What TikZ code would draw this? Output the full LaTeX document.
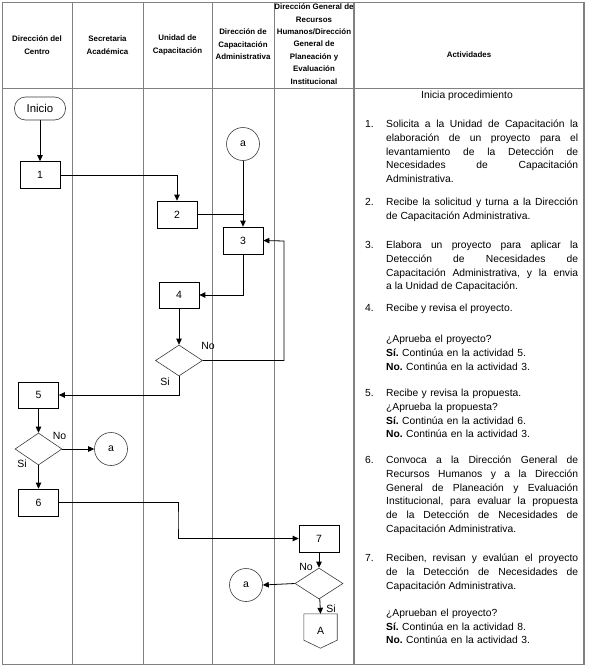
\documentclass[tikz,border=0pt]{standalone}
\usepackage{fontspec}
\setmainfont{Liberation Sans}
\usetikzlibrary{arrows.meta,shapes.geometric}
\definecolor{gridc}{RGB}{128,128,128}
\definecolor{shapec}{RGB}{60,60,60}
\tolerance=10000
\hbadness=10000
\hyphenpenalty=10000
\exhyphenpenalty=10000
\frenchspacing
\begin{document}
\begin{tikzpicture}[x=1pt,y=-1pt,
  gridline/.style={draw=gridc, line width=0.8pt},
  box/.style={draw=black, line width=0.7pt, minimum width=40pt, minimum height=27pt, inner sep=0pt, font=\fontsize{10.5}{12}\selectfont},
  dec/.style={draw=shapec, line width=0.6pt, diamond, minimum width=47pt, minimum height=31pt, inner sep=0pt, aspect=1.5},
  conn/.style={draw=shapec, circle, line width=0.6pt, minimum size=33pt, inner sep=0pt, font=\fontsize{10.5}{12}\selectfont},
  arr/.style={line width=0.8pt, -{Triangle[length=6pt,width=5.5pt]}},
  ln/.style={line width=0.8pt},
  hdr/.style={font=\fontsize{7.9}{12.4}\selectfont\bfseries, align=center, inner sep=0pt},
  lbl/.style={font=\fontsize{10.5}{12}\selectfont, inner sep=0pt},
  act/.style={font=\fontsize{10.3}{13.7}\selectfont, inner sep=0pt, anchor=north west, text width=192pt, align=justify},
  actl/.style={act, align=left},
  num/.style={font=\fontsize{10.3}{13.7}\selectfont, inner sep=0pt, anchor=north west},
]
\useasboundingbox (0,0) rectangle (590,670);

% table grid
\draw[gridline] (2,2) rectangle (584,664);
\draw[gridline] (2,88) -- (584,88);
\foreach \cx in {72,143,212,274} {\draw[gridline] (\cx,2) -- (\cx,664);}
\draw[gridline, line width=2pt] (354,2) -- (354,664);
\draw[gridline, line width=1.6pt] (584,2) -- (584,664);

% headers
\node[hdr] (h1) at (37,45) {Dirección del\\Centro};
\node[hdr] (h2) at (107.5,45) {Secretaria\\Académica};
\node[hdr] (h3) at (177.5,45) {Unidad de\\Capacitación};
\node[hdr] (h4) at (243,44.5) {Dirección de\\Capacitación\\Administrativa};
\node[hdr] (h5) at (314,44) {Dirección General de\\Recursos\\Humanos/Dirección\\General de\\Planeación y\\Evaluación\\Institucional};
\node[hdr] (h6) at (469,55) {Actividades};

% flowchart nodes
\node[draw=shapec, rounded corners=11pt, minimum width=51pt, minimum height=23pt, inner sep=0pt, line width=0.6pt, font=\fontsize{11.4}{13}\selectfont] (inicio) at (40,108.5) {Inicio};
\node[box] (b1) at (40,175) {1};
\node[box] (b2) at (177,214.5) {2};
\node[conn] (a1) at (243,144) {a};
\node[box] (b3) at (243,240.5) {3};
\node[box, minimum height=26pt] (b4) at (179,295) {4};
\node[dec] (d1) at (179,360.5) {};
\node[box, minimum height=26pt] (b5) at (38.5,395) {5};
\node[dec, minimum height=32pt] (d2) at (38.5,449) {};
\node[conn] (a2) at (111,449) {a};
\node[box] (b6) at (38.5,502.5) {6};
\node[box] (b7) at (319,538.5) {7};
\node[dec, minimum width=48pt] (d3) at (319,583.5) {};
\node[conn] (a3) at (246,585) {a};
\node[minimum width=33pt, minimum height=34pt, inner sep=0pt, font=\fontsize{10.5}{12}\selectfont] (offA) at (320.5,631) {A};
\draw[draw=shapec, line width=0.6pt] (offA.north west) -- (offA.north east) -- ([yshift=8pt]offA.south east) -- (offA.south) -- ([yshift=8pt]offA.south west) -- cycle;

\coordinate (r3) at (284,241);
\coordinate (m6) at (178,520);

% connectors
\draw[arr] (inicio) -- (b1);
\draw[arr] (b1.east) -| (b2.north);
\draw[arr] (a1) -- (b3);
\draw[ln] (b2.east) -- (b2.east -| a1.south);
\draw[arr] (d1.east) -| (r3) -- (b3.east);
\draw[arr] (b3.south) |- (b4.east);
\draw[arr] (b4) -- (d1);
\draw[arr] (d1.south) |- (b5.east);
\draw[arr] (b5) -- (d2);
\draw[arr] (d2) -- (a2);
\draw[arr] (d2) -- (b6);
\draw[arr] (b6.east) -| (m6) |- (b7.west);
\draw[arr] (b7) -- (d3);
\draw[arr] (d3.west) -- (a3.east);
\draw[arr] (d3) -- (offA.north);

% branch labels
\node[lbl] (no1) at (208,346) {No};
\node[lbl] (si1) at (165,382) {Si};
\node[lbl] (no2) at (59.5,436) {No};
\node[lbl] (si2) at (22,464) {Si};
\node[lbl] (no3) at (306,567) {No};
\node[lbl] (si3) at (331,609) {Si};

% activities column
\node[font=\fontsize{10.3}{13.7}\selectfont, inner sep=0pt] (t0) at (467,95.5) {Inicia procedimiento};

\node[num] (n1) at (365,118.1) {\strut 1.};
\node[act] (t1) at (386,118.1) {\strut Solicita a la Unidad de Capacitación la\linebreak elaboración de un proyecto para el\linebreak levantamiento de la Detección de\linebreak Necesidades de Capacitación\linebreak Administrativa.};

\node[num] (n2) at (365,196.1) {\strut 2.};
\node[act] (t2) at (386,196.1) {\strut Recibe la solicitud y turna a la Dirección\linebreak de Capacitación Administrativa.};

\node[num] (n3) at (365,239.1) {\strut 3.};
\node[act] (t3) at (386,239.1) {\strut Elabora un proyecto para aplicar la\linebreak Detección de Necesidades de\linebreak Capacitación Administrativa, y la envia\linebreak a la Unidad de Capacitación.};

\node[num] (n4) at (365,302.1) {\strut 4.};
\node[act] (t4) at (386,302.1) {\strut Recibe y revisa el proyecto.};
\node[actl] (t4b) at (386,333.1) {\strut ¿Aprueba el proyecto?\\ \textbf{Sí.} Continúa en la actividad 5.\\ \textbf{No.} Continúa en la actividad 3.};

\node[num] (n5) at (365,387.1) {\strut 5.};
\node[actl] (t5) at (386,387.1) {\strut Recibe y revisa la propuesta.\\ ¿Aprueba la propuesta?\\ \textbf{Sí.} Continúa en la actividad 6.\\ \textbf{No.} Continúa en la actividad 3.};

\node[num] (n6) at (365,454.1) {\strut 6.};
\node[act] (t6) at (386,454.1) {\strut Convoca a la Dirección General de\linebreak Recursos Humanos y a la Dirección\linebreak General de Planeación y Evaluación\linebreak Institucional, para evaluar la propuesta\linebreak de la Detección de Necesidades de\linebreak Capacitación Administrativa.};

\node[num] (n7) at (365,552.1) {\strut 7.};
\node[act] (t7) at (386,552.1) {\strut Reciben, revisan y evalúan el proyecto\linebreak de la Detección de Necesidades de\linebreak Capacitación Administrativa.};
\node[actl] (t7b) at (386,606.6) {\strut ¿Aprueban el proyecto?\\ \textbf{Sí.} Continúa en la actividad 8.\\ \textbf{No.} Continúa en la actividad 3.};
\end{tikzpicture}
\end{document}
